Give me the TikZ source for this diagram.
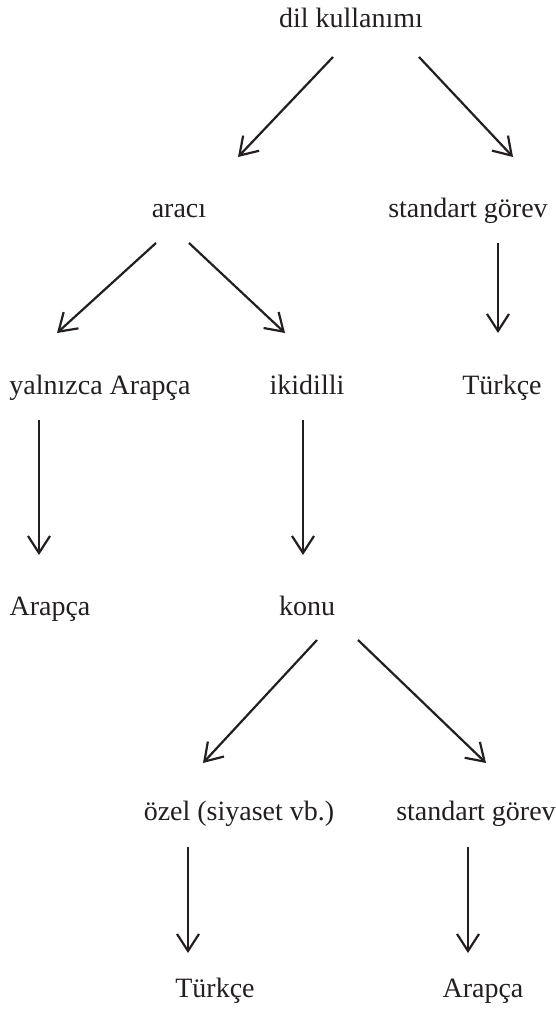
\documentclass[tikz,border=0pt]{standalone}
\usepackage{fontspec}
\setmainfont{Liberation Serif}
\usetikzlibrary{arrows.meta}
\definecolor{ink}{HTML}{231F20}
\tikzset{
  lbl/.style={anchor=base, inner sep=0pt, text=ink,
    font=\fontsize{28}{32}\selectfont},
  link/.style={draw=ink, line width=2.2pt,
    -{Straight Barb[length=17pt, width=22pt, line width=2.2pt]}}
}
\begin{document}
\begin{tikzpicture}[x=1pt, y=-1pt]
  \useasboundingbox (0,0) rectangle (555,1011);

  % labels, placed by their baselines
  \node[lbl] (top)   at (351,28)  {dil kullanımı};
  \node[lbl] (araci) at (179,217) {aracı};
  \node[lbl] (sgA)   at (468,217) {standart görev};
  \node[lbl] (yal)   at (100,394) {yalnızca Arapça};
  \node[lbl] (iki)   at (307,394) {ikidilli};
  \node[lbl] (trA)   at (502,394) {Türkçe};
  \node[lbl] (arA)   at (50,615)  {Arapça};
  \node[lbl] (konu)  at (307,615) {konu};
  \node[lbl] (ozel)  at (239,820) {özel (siyaset vb.)};
  \node[lbl] (sgB)   at (476,820) {standart görev};
  \node[lbl] (trB)   at (215,997) {Türkçe};
  \node[lbl] (arB)   at (483,997) {Arapça};

  % arrows between the labels
  \draw[link] ([shift={(-18,29)}]top.base)  -- ([shift={(59,-60)}]araci.base);
  \draw[link] ([shift={(68,29)}]top.base)   -- ([shift={(45,-60)}]sgA.base);
  \draw[link] ([shift={(-23,26)}]araci.base) -- ([shift={(-43,-61)}]yal.base);
  \draw[link] ([shift={(10,26)}]araci.base)  -- ([shift={(-22,-61)}]iki.base);
  \draw[link] ([shift={(30,26)}]sgA.base)    -- ([shift={(-4,-61)}]trA.base);
  \draw[link] ([shift={(-61,26)}]yal.base)   -- ([shift={(-11,-60)}]arA.base);
  \draw[link] ([shift={(-4,26)}]iki.base)    -- ([shift={(-4,-60)}]konu.base);
  \draw[link] ([shift={(10,25)}]konu.base)   -- ([shift={(-36,-57)}]ozel.base);
  \draw[link] ([shift={(51,25)}]konu.base)   -- ([shift={(10,-57)}]sgB.base);
  \draw[link] ([shift={(-51,27)}]ozel.base)  -- ([shift={(-27,-44)}]trB.base);
  \draw[link] ([shift={(-8,27)}]sgB.base)    -- ([shift={(-15,-44)}]arB.base);
\end{tikzpicture}
\end{document}
